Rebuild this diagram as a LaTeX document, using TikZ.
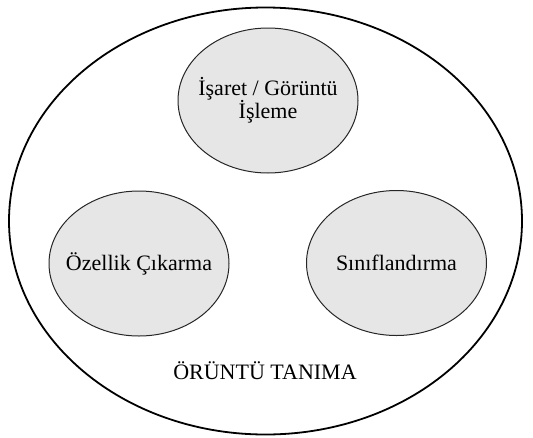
\documentclass[tikz,border=0pt]{standalone}
\usepackage{fontspec}
\setmainfont{Liberation Serif}
\usetikzlibrary{shapes.geometric}
\definecolor{cfill}{RGB}{230,230,230}
\begin{document}
\begin{tikzpicture}[x=1pt,y=-1pt,
  big/.style={ellipse,draw=black,line width=1.8pt,minimum width=513pt,minimum height=427pt,inner sep=0pt},
  sub/.style={ellipse,draw=black!85,line width=1pt,fill=cfill,minimum width=180pt,minimum height=145pt,inner sep=0pt},
  lbl/.style={font=\fontsize{22}{23}\selectfont,inner sep=0pt,align=center}]
\useasboundingbox (0,0) rectangle (533,437);
\node[big] (outer) at (265.5,221) {};
\node[sub] (top) at (268,100.5) {};
\node[sub] (left) at (139,263.5) {};
\node[sub] (right) at (396.5,263) {};
\node[lbl] (toptxt) at (top.center) {İşaret / Görüntü\\İşleme};
\node[lbl] (lefttxt) at (left.center) {Özellik Çıkarma};
\node[lbl] (righttxt) at (right.center) {Sınıflandırma};
\node[lbl] (title) at (265,371) {ÖRÜNTÜ TANIMA};
\end{tikzpicture}
\end{document}
